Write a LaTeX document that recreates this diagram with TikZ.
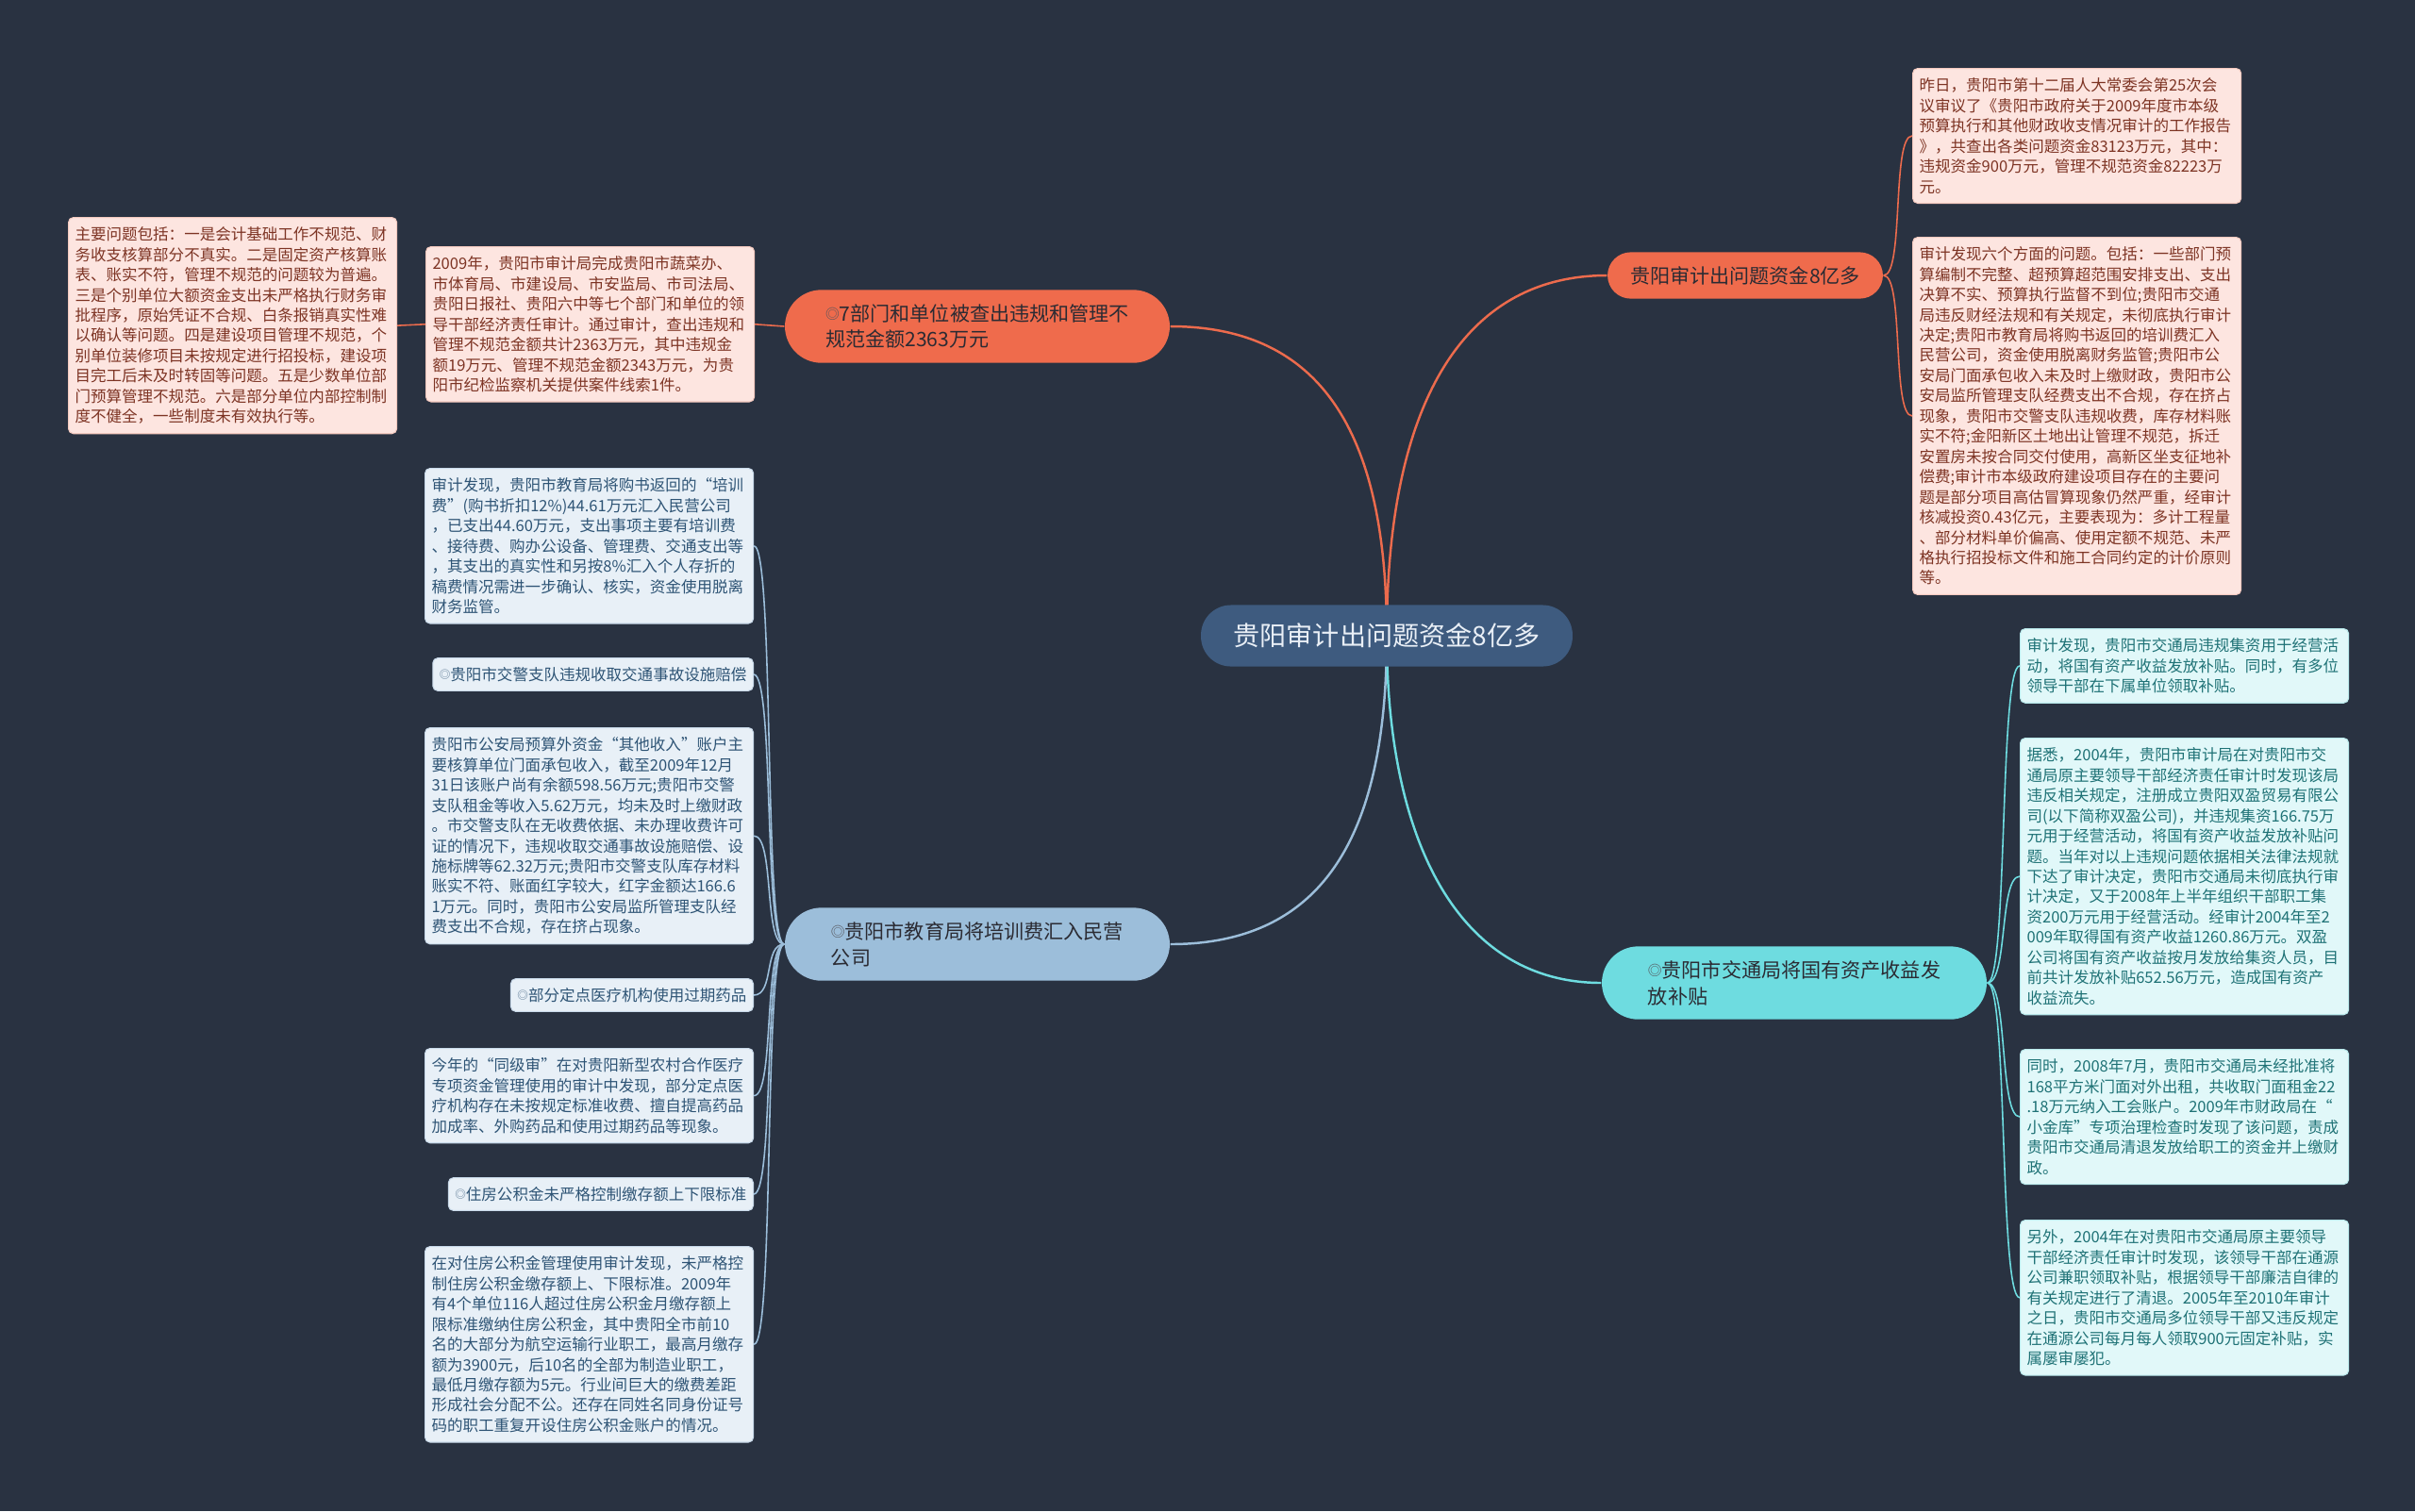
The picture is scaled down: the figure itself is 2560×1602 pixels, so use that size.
\documentclass[tikz,border=0pt]{standalone}
\usepackage{fontspec}
\newfontfamily\cjkfont{Noto Sans CJK SC}
\usepackage{tikz}
\usetikzlibrary{backgrounds}
\usepackage{xcolor}
\definecolor{bgdark}{HTML}{293241}
\definecolor{rootfill}{HTML}{3E5B7F}
\definecolor{roottext}{HTML}{E9EFF6}
\definecolor{orfill}{HTML}{EF6B4C}
\definecolor{orline}{HTML}{EC6B4D}
\definecolor{orleaf}{HTML}{FDE5E0}
\definecolor{oredge}{HTML}{F3C9BF}
\definecolor{ortext}{HTML}{7D3424}
\definecolor{blfill}{HTML}{9CBEDA}
\definecolor{blleaf}{HTML}{E8F0F7}
\definecolor{bledge}{HTML}{C9DAEA}
\definecolor{bltext}{HTML}{2E5475}
\definecolor{cyfill}{HTML}{6EDCE0}
\definecolor{cyleaf}{HTML}{E1F8F9}
\definecolor{cyedge}{HTML}{B9E9EB}
\definecolor{cytext}{HTML}{1F7276}
\definecolor{brtext}{HTML}{2B2B33}
\tikzset{
  rootnode/.style = {fill=rootfill, text=roottext, rounded corners=9pt,
                     minimum width=112pt, minimum height=18.5pt, inner sep=0pt,
                     font=\cjkfont\fontsize{8}{9.6}\selectfont},
  branch/.style   = {text=brtext, rounded corners=11pt, minimum width=116pt,
                     minimum height=22pt, inner sep=0pt, align=left,
                     font=\cjkfont\fontsize{6}{7.9}\selectfont},
  branchsm/.style = {branch, rounded corners=7pt, minimum width=83pt,
                     minimum height=14pt},
  leaf/.style     = {draw, line width=0.3pt, rounded corners=1.5pt,
                     inner xsep=2pt, inner ysep=2.9pt,
                     font=\cjkfont\fontsize{4.7}{6.1}\selectfont},
  note/.style     = {leaf, anchor=north west, text width=95pt, align=left},
  tag/.style      = {leaf, anchor=east, inner ysep=2.75pt},
  leafor/.style   = {fill=orleaf, draw=oredge, text=ortext},
  leafbl/.style   = {fill=blleaf, draw=bledge, text=bltext},
  leafcy/.style   = {fill=cyleaf, draw=cyedge, text=cytext},
  link/.style     = {line width=0.7pt},
  twig/.style     = {line width=0.45pt},
}
\newcommand{\bul}{\raisebox{.1em}{\scalebox{.7}{\color{.!80}◎}}}

\begin{document}
\begin{tikzpicture}[x=0.01cm,y=-0.01cm]
\useasboundingbox (0,0) rectangle (2560,1602);
\begin{pgfonlayer}{background}
\fill[bgdark] (0,0) rectangle (2560,1602);
\end{pgfonlayer}
% ---------- root and branches ----------
\node[rootnode] (root) at (1470,674) {贵阳审计出问题资金8亿多};
\node[branchsm, fill=orfill] (audit) at (1850,292) {贵阳审计出问题资金8亿多};
\node[branch, fill=orfill] (dept) at (1036,346) {\bul 7部门和单位被查出违规和管理不\\规范金额2363万元};
\node[branch, fill=blfill] (edu) at (1036,1001) {\bul 贵阳市教育局将培训费汇入民营\\公司};
\node[branch, fill=cyfill] (traffic) at (1902,1042) {\bul 贵阳市交通局将国有资产收益发\\放补贴};
% ---------- departments ----------
\node[note, leafor] (dept1) at (451,261) {2009年，贵阳市审计局完成贵阳市蔬菜办、\\
市体育局、市建设局、市安监局、市司法局、\\
贵阳日报社、贵阳六中等七个部门和单位的领\\
导干部经济责任审计。通过审计，查出违规和\\
管理不规范金额共计2363万元，其中违规金\\
额19万元、管理不规范金额2343万元，为贵\\
阳市纪检监察机关提供案件线索1件。};
\node[note, leafor] (dept2) at (72,230) {主要问题包括：一是会计基础工作不规范、财\\
务收支核算部分不真实。二是固定资产核算账\\
表、账实不符，管理不规范的问题较为普遍。\\
三是个别单位大额资金支出未严格执行财务审\\
批程序，原始凭证不合规、白条报销真实性难\\
以确认等问题。四是建设项目管理不规范，个\\
别单位装修项目未按规定进行招投标，建设项\\
目完工后未及时转固等问题。五是少数单位部\\
门预算管理不规范。六是部分单位内部控制制\\
度不健全，一些制度未有效执行等。};
% ---------- audit report ----------
\node[note, leafor] (audit1) at (2027,72) {昨日，贵阳市第十二届人大常委会第25次会\\
议审议了《贵阳市政府关于2009年度市本级\\
预算执行和其他财政收支情况审计的工作报告\\
》，共查出各类问题资金83123万元，其中：\\
违规资金900万元，管理不规范资金82223万\\
元。};
\node[note, leafor] (audit2) at (2027,251) {审计发现六个方面的问题。包括：一些部门预\\
算编制不完整、超预算超范围安排支出、支出\\
决算不实、预算执行监督不到位;贵阳市交通\\
局违反财经法规和有关规定，未彻底执行审计\\
决定;贵阳市教育局将购书返回的培训费汇入\\
民营公司，资金使用脱离财务监管;贵阳市公\\
安局门面承包收入未及时上缴财政，贵阳市公\\
安局监所管理支队经费支出不合规，存在挤占\\
现象，贵阳市交警支队违规收费，库存材料账\\
实不符;金阳新区土地出让管理不规范，拆迁\\
安置房未按合同交付使用，高新区坐支征地补\\
偿费;审计市本级政府建设项目存在的主要问\\
题是部分项目高估冒算现象仍然严重，经审计\\
核减投资0.43亿元，主要表现为：多计工程量\\
、部分材料单价偏高、使用定额不规范、未严\\
格执行招投标文件和施工合同约定的计价原则\\
等。};
% ---------- traffic bureau ----------
\node[note, leafcy] (traf1) at (2141,666) {审计发现，贵阳市交通局违规集资用于经营活\\
动，将国有资产收益发放补贴。同时，有多位\\
领导干部在下属单位领取补贴。};
\node[note, leafcy] (traf2) at (2141,782) {据悉，2004年，贵阳市审计局在对贵阳市交\\
通局原主要领导干部经济责任审计时发现该局\\
违反相关规定，注册成立贵阳双盈贸易有限公\\
司(以下简称双盈公司)，并违规集资166.75万\\
元用于经营活动，将国有资产收益发放补贴问\\
题。当年对以上违规问题依据相关法律法规就\\
下达了审计决定，贵阳市交通局未彻底执行审\\
计决定，又于2008年上半年组织干部职工集\\
资200万元用于经营活动。经审计2004年至2\\
009年取得国有资产收益1260.86万元。双盈\\
公司将国有资产收益按月发放给集资人员，目\\
前共计发放补贴652.56万元，造成国有资产\\
收益流失。};
\node[note, leafcy] (traf3) at (2141,1112) {同时，2008年7月，贵阳市交通局未经批准将\\
168平方米门面对外出租，共收取门面租金22\\
.18万元纳入工会账户。2009年市财政局在“\\
小金库”专项治理检查时发现了该问题，责成\\
贵阳市交通局清退发放给职工的资金并上缴财\\
政。};
\node[note, leafcy] (traf4) at (2141,1293) {另外，2004年在对贵阳市交通局原主要领导\\
干部经济责任审计时发现，该领导干部在通源\\
公司兼职领取补贴，根据领导干部廉洁自律的\\
有关规定进行了清退。2005年至2010年审计\\
之日，贵阳市交通局多位领导干部又违反规定\\
在通源公司每月每人领取900元固定补贴，实\\
属屡审屡犯。};
% ---------- education bureau ----------
\node[note, leafbl] (edu1) at (450,496) {审计发现，贵阳市教育局将购书返回的“培训\\
费”(购书折扣12\%)44.61万元汇入民营公司\\
，已支出44.60万元，支出事项主要有培训费\\
、接待费、购办公设备、管理费、交通支出等\\
，其支出的真实性和另按8\%汇入个人存折的\\
稿费情况需进一步确认、核实，资金使用脱离\\
财务监管。};
\node[tag, leafbl] (edu2) at (799,715) {\bul 贵阳市交警支队违规收取交通事故设施赔偿};
\node[note, leafbl] (edu3) at (450,771) {贵阳市公安局预算外资金“其他收入”账户主\\
要核算单位门面承包收入，截至2009年12月\\
31日该账户尚有余额598.56万元;贵阳市交警\\
支队租金等收入5.62万元，均未及时上缴财政\\
。市交警支队在无收费依据、未办理收费许可\\
证的情况下，违规收取交通事故设施赔偿、设\\
施标牌等62.32万元;贵阳市交警支队库存材料\\
账实不符、账面红字较大，红字金额达166.6\\
1万元。同时，贵阳市公安局监所管理支队经\\
费支出不合规，存在挤占现象。};
\node[tag, leafbl] (edu4) at (799,1055) {\bul 部分定点医疗机构使用过期药品};
\node[note, leafbl] (edu5) at (450,1111) {今年的“同级审”在对贵阳新型农村合作医疗\\
专项资金管理使用的审计中发现，部分定点医\\
疗机构存在未按规定标准收费、擅自提高药品\\
加成率、外购药品和使用过期药品等现象。};
\node[tag, leafbl] (edu6) at (799,1266) {\bul 住房公积金未严格控制缴存额上下限标准};
\node[note, leafbl] (edu7) at (450,1321) {在对住房公积金管理使用审计发现，未严格控\\
制住房公积金缴存额上、下限标准。2009年\\
有4个单位116人超过住房公积金月缴存额上\\
限标准缴纳住房公积金，其中贵阳全市前10\\
名的大部分为航空运输行业职工，最高月缴存\\
额为3900元，后10名的全部为制造业职工，\\
最低月缴存额为5元。行业间巨大的缴费差距\\
形成社会分配不公。还存在同姓名同身份证号\\
码的职工重复开设住房公积金账户的情况。};
% ---------- connectors ----------
\begin{pgfonlayer}{background}
\draw[link, orline] (root.center) .. controls +(0,-250) and +(-150,0) .. (audit.west);
\draw[link, orline] (root.center) .. controls +(0,-200) and +(170,0) .. (dept.east);
\draw[link, blfill] (root.center) .. controls +(0,200) and +(170,0) .. (edu.east);
\draw[link, cyfill] (root.center) .. controls +(0,220) and +(-150,0) .. (traffic.west);
\draw[twig, orline] (dept.west) -- (dept1.east);
\draw[twig, orline] (dept1.west) -- (dept2.east);
\draw[twig, orline] (audit.east) .. controls +(22,0) and +(-22,0) .. (audit1.west);
\draw[twig, orline] (audit.east) .. controls +(22,0) and +(-22,0) .. (audit2.west);
\draw[twig, cyfill] (traffic.east) .. controls +(22,0) and +(-22,0) .. (traf1.west);
\draw[twig, cyfill] (traffic.east) .. controls +(22,0) and +(-22,0) .. (traf2.west);
\draw[twig, cyfill] (traffic.east) .. controls +(22,0) and +(-22,0) .. (traf3.west);
\draw[twig, cyfill] (traffic.east) .. controls +(22,0) and +(-22,0) .. (traf4.west);
\draw[twig, blfill] (edu.west) .. controls +(-22,0) and +(22,0) .. (edu1.east);
\draw[twig, blfill] (edu.west) .. controls +(-22,0) and +(22,0) .. (edu2.east);
\draw[twig, blfill] (edu.west) .. controls +(-22,0) and +(22,0) .. (edu3.east);
\draw[twig, blfill] (edu.west) .. controls +(-22,0) and +(22,0) .. (edu4.east);
\draw[twig, blfill] (edu.west) .. controls +(-22,0) and +(22,0) .. (edu5.east);
\draw[twig, blfill] (edu.west) .. controls +(-22,0) and +(22,0) .. (edu6.east);
\draw[twig, blfill] (edu.west) .. controls +(-22,0) and +(22,0) .. (edu7.east);
\end{pgfonlayer}
\end{tikzpicture}
\end{document}
